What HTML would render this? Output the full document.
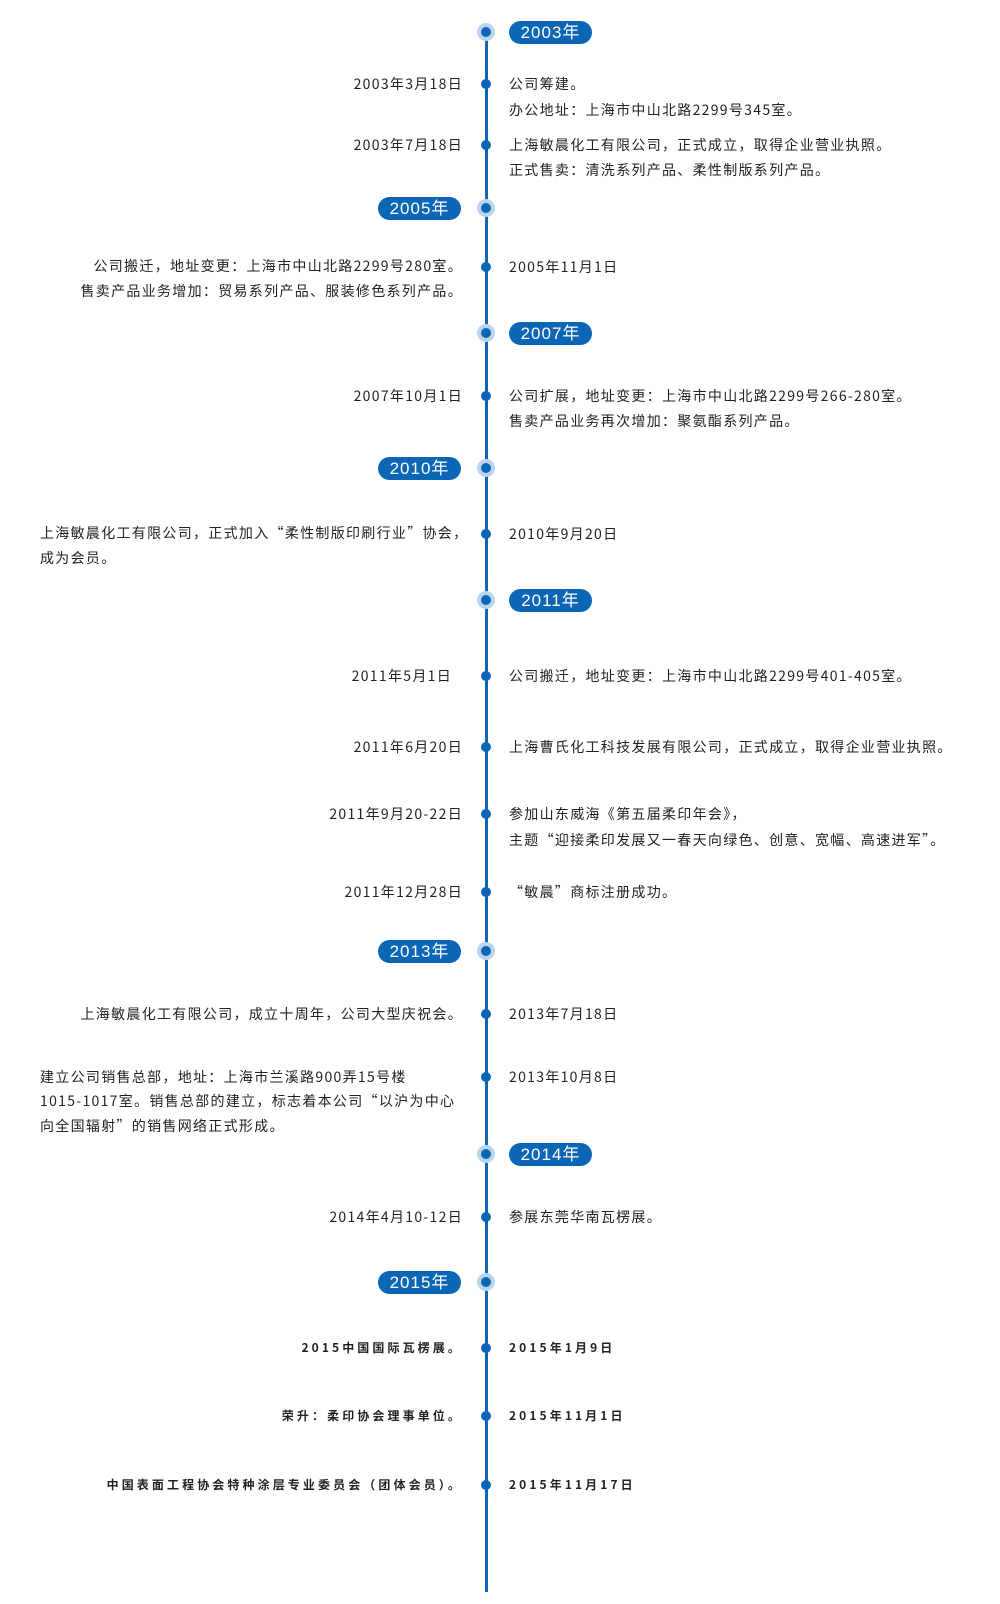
<!DOCTYPE html>
<html><head><meta charset="utf-8"><style>
html,body{margin:0;padding:0;background:#fff;}
body{width:1000px;height:1604px;position:relative;overflow:hidden;font-family:"Noto Sans CJK SC","Liberation Sans",sans-serif;color:#222;}
.line{position:absolute;left:484.5px;top:32px;width:3px;height:1560px;background:#0c66b6;}
.d{position:absolute;left:481px;width:10px;height:10px;margin-top:-5px;border-radius:50%;background:#0c66b6;}
.y{position:absolute;left:477px;width:18px;height:18px;margin-top:-9px;border-radius:50%;background:#bcd5ee;}
.y::after{content:"";position:absolute;left:4px;top:4px;width:10px;height:10px;border-radius:50%;background:#0c66b6;}
.p{position:absolute;width:83px;height:23px;margin-top:-11.5px;border-radius:12px;background:#0c66b6;color:#fff;font-size:17px;line-height:23px;text-align:center;letter-spacing:1px;font-family:"Liberation Sans","Noto Sans CJK SC",sans-serif;}
.pr{left:509px;}.pl{left:378px;}
.t{position:absolute;font-size:14px;letter-spacing:1.3px;line-height:24px;white-space:nowrap;margin-top:-12px;}
.l{right:537px;text-align:right;}
.r{left:509px;}
.lw{left:40px;text-align:left;}
.b{font-weight:bold;font-size:12px;letter-spacing:3.1px;}
</style></head><body>
<div class="line"></div>

<div class="y" style="top:32px"></div><div class="p pr" style="top:32px">2003年</div>
<div class="d" style="top:84px"></div>
<div class="t l" style="top:84px">2003年3月18日</div>
<div class="t r" style="top:84px">公司筹建。</div>
<div class="t r" style="top:110px">办公地址：上海市中山北路2299号345室。</div>
<div class="d" style="top:145px"></div>
<div class="t l" style="top:145px">2003年7月18日</div>
<div class="t r" style="top:145px">上海敏晨化工有限公司，正式成立，取得企业营业执照。</div>
<div class="t r" style="top:170px">正式售卖：清洗系列产品、柔性制版系列产品。</div>

<div class="y" style="top:208px"></div><div class="p pl" style="top:208px">2005年</div>
<div class="d" style="top:267px"></div>
<div class="t r" style="top:267px">2005年11月1日</div>
<div class="t l" style="top:266px">公司搬迁，地址变更：上海市中山北路2299号280室。</div>
<div class="t l" style="top:291px">售卖产品业务增加：贸易系列产品、服装修色系列产品。</div>

<div class="y" style="top:333px"></div><div class="p pr" style="top:333px">2007年</div>
<div class="d" style="top:396px"></div>
<div class="t l" style="top:396px">2007年10月1日</div>
<div class="t r" style="top:396px">公司扩展，地址变更：上海市中山北路2299号266-280室。</div>
<div class="t r" style="top:421px">售卖产品业务再次增加：聚氨酯系列产品。</div>

<div class="y" style="top:468px"></div><div class="p pl" style="top:468px">2010年</div>
<div class="d" style="top:534px"></div>
<div class="t r" style="top:534px">2010年9月20日</div>
<div class="t lw" style="top:533px">上海敏晨化工有限公司，正式加入“柔性制版印刷行业”协会，</div>
<div class="t lw" style="top:558px">成为会员。</div>

<div class="y" style="top:600px"></div><div class="p pr" style="top:600px">2011年</div>
<div class="d" style="top:676px"></div>
<div class="t l" style="top:676px;right:548px">2011年5月1日</div>
<div class="t r" style="top:676px">公司搬迁，地址变更：上海市中山北路2299号401-405室。</div>
<div class="d" style="top:747px"></div>
<div class="t l" style="top:747px">2011年6月20日</div>
<div class="t r" style="top:747px">上海曹氏化工科技发展有限公司，正式成立，取得企业营业执照。</div>
<div class="d" style="top:814px"></div>
<div class="t l" style="top:814px">2011年9月20-22日</div>
<div class="t r" style="top:814px">参加山东威海《第五届柔印年会》，</div>
<div class="t r" style="top:840px">主题“迎接柔印发展又一春天向绿色、创意、宽幅、高速进军”。</div>
<div class="d" style="top:892px"></div>
<div class="t l" style="top:892px">2011年12月28日</div>
<div class="t r" style="top:892px">“敏晨”商标注册成功。</div>

<div class="y" style="top:951px"></div><div class="p pl" style="top:951px">2013年</div>
<div class="d" style="top:1014px"></div>
<div class="t r" style="top:1014px">2013年7月18日</div>
<div class="t l" style="top:1014px">上海敏晨化工有限公司，成立十周年，公司大型庆祝会。</div>
<div class="d" style="top:1077px"></div>
<div class="t r" style="top:1077px">2013年10月8日</div>
<div class="t lw" style="top:1077px">建立公司销售总部，地址：上海市兰溪路900弄15号楼</div>
<div class="t lw" style="top:1101px">1015-1017室。销售总部的建立，标志着本公司“以沪为中心</div>
<div class="t lw" style="top:1126px">向全国辐射”的销售网络正式形成。</div>

<div class="y" style="top:1154px"></div><div class="p pr" style="top:1154px">2014年</div>
<div class="d" style="top:1217px"></div>
<div class="t l" style="top:1217px">2014年4月10-12日</div>
<div class="t r" style="top:1217px">参展东莞华南瓦楞展。</div>

<div class="y" style="top:1282px"></div><div class="p pl" style="top:1282px">2015年</div>
<div class="d" style="top:1348px"></div>
<div class="t l b" style="top:1348px">2015中国国际瓦楞展。</div>
<div class="t r b" style="top:1348px">2015年1月9日</div>
<div class="d" style="top:1416px"></div>
<div class="t l b" style="top:1416px">荣升：柔印协会理事单位。</div>
<div class="t r b" style="top:1416px">2015年11月1日</div>
<div class="d" style="top:1485px"></div>
<div class="t l b" style="top:1485px">中国表面工程协会特种涂层专业委员会（团体会员）。</div>
<div class="t r b" style="top:1485px">2015年11月17日</div>
</body></html>
